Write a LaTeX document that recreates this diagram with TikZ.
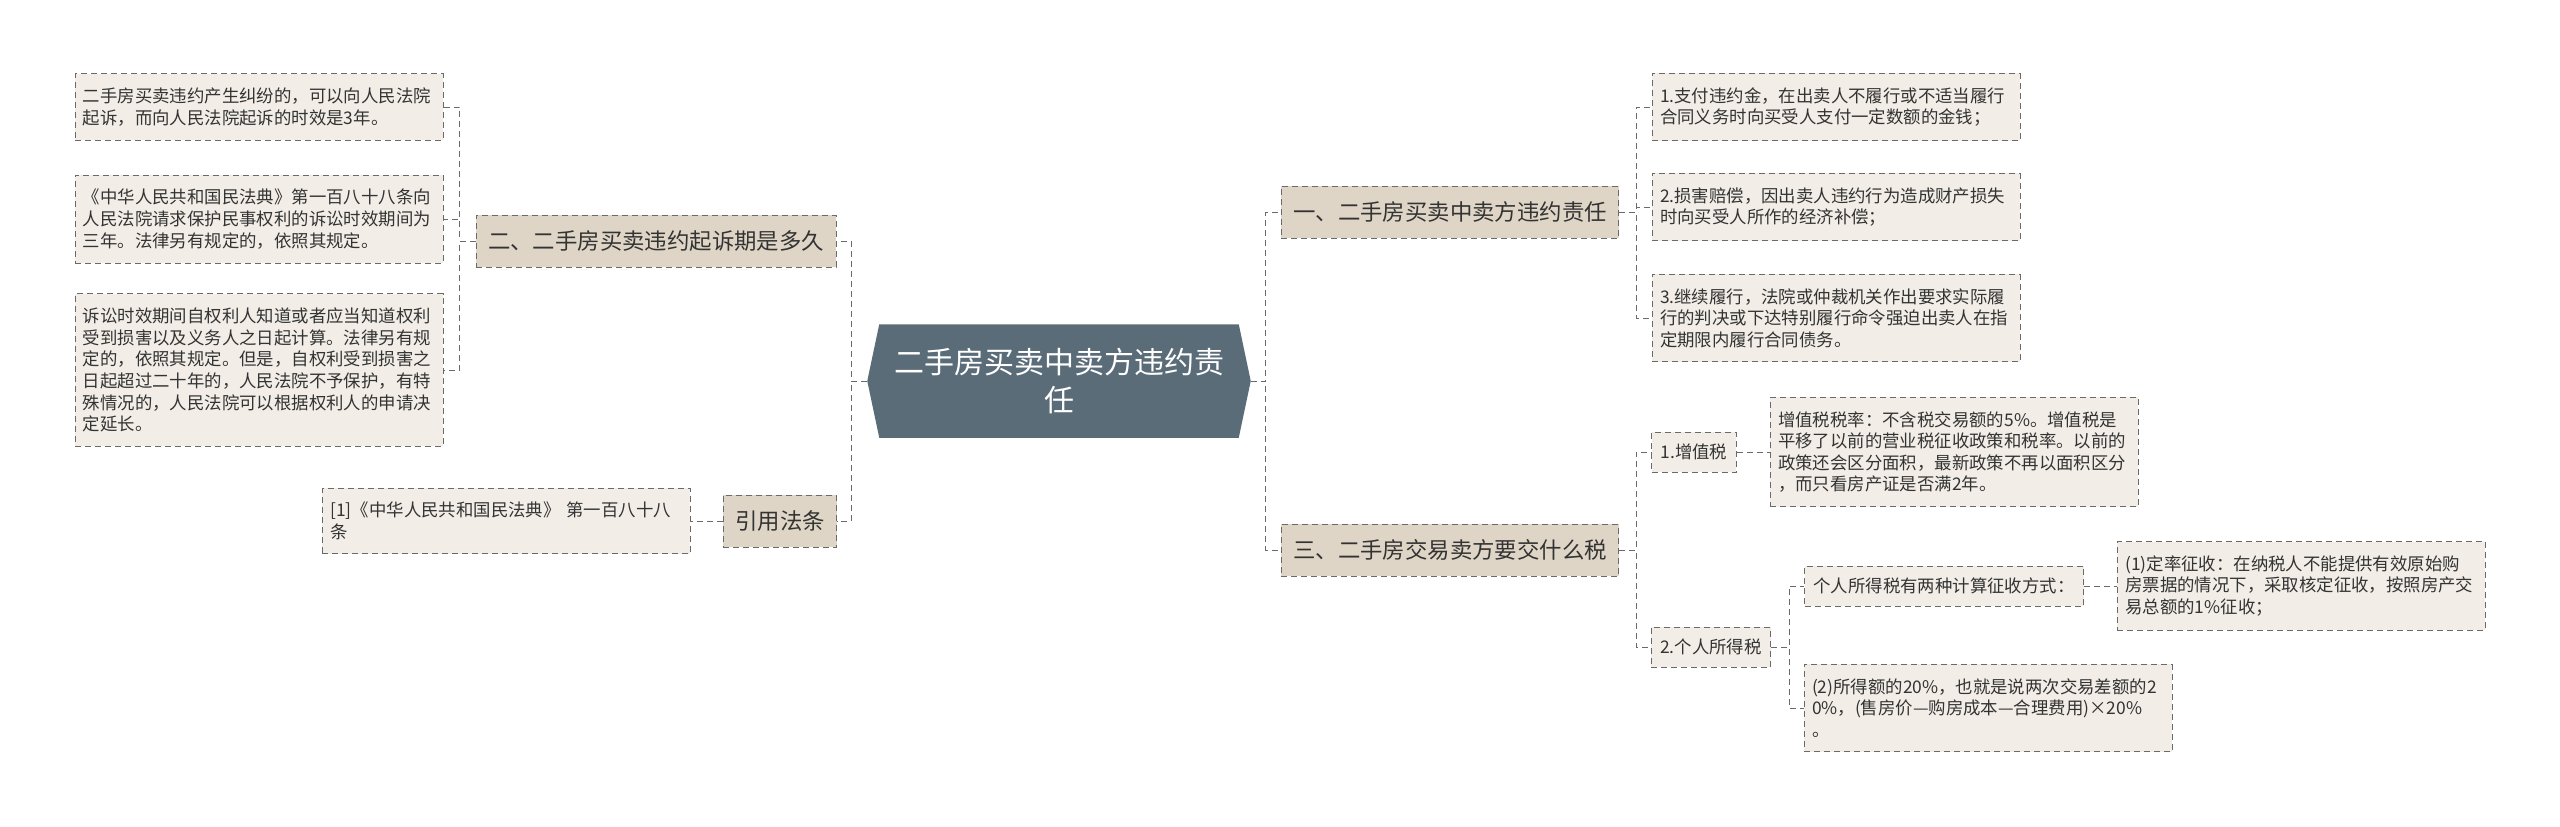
\documentclass[tikz,border=0pt]{standalone}
\usepackage{fontspec}
\setmainfont{Noto Sans CJK SC}
\usepackage{xcolor}
\usepackage{tikz}
\usetikzlibrary{positioning, backgrounds}

\definecolor{hubfill}{HTML}{5B6C79}
\definecolor{topicfill}{HTML}{DED5C6}
\definecolor{notefill}{HTML}{F2EEE7}
\definecolor{edgegray}{HTML}{6A6A6A}
\definecolor{inkgray}{HTML}{333333}

\begin{document}
\begin{tikzpicture}[
    x=0.5pt, y=-0.5pt,  % one unit = one pixel of the 2560 wide picture
    line width=0.75pt,
    edgedash/.style={dash pattern=on 3pt off 2pt},
    hub/.style={
      minimum width=191pt,
      minimum height=56pt,
      inner sep=0pt,
      align=center,
      text=white,
      font=\fontsize{15pt}{19pt}\selectfont
    },
    topic/.style={
      draw=edgegray, edgedash,
      fill=topicfill,
      text=inkgray,
      font=\fontsize{11.2pt}{14pt}\selectfont,
      inner xsep=6pt, inner ysep=0pt,
      minimum height=26pt
    },
    subtopic/.style={
      draw=edgegray, edgedash,
      fill=notefill,
      text=inkgray,
      font=\fontsize{8.7pt}{11pt}\selectfont,
      inner xsep=4.5pt, inner ysep=0pt,
      minimum height=20pt
    },
    note/.style={
      draw=edgegray, edgedash,
      fill=notefill,
      text=inkgray,
      font=\fontsize{8.7pt}{10.8pt}\selectfont,
      align=left,
      text width=176pt,
      inner xsep=4pt, inner ysep=7pt
    },
    link/.style={draw=edgegray, edgedash}
]
\useasboundingbox (0,0) rectangle (2560,826);

% centre
\node[hub] (hub) at (1059,381) {二手房买卖中卖方违约责\\任};
\begin{pgfonlayer}{background}
\fill[hubfill] ([xshift=6pt]hub.north west) -- ([xshift=-6pt]hub.north east) -- (hub.east)
  -- ([xshift=-6pt]hub.south east) -- ([xshift=6pt]hub.south west) -- (hub.west) -- cycle;
\end{pgfonlayer}

% left branch
\node[topic] (suitTime) at (656,241) {二、二手房买卖违约起诉期是多久};
\node[note] (suitNoteA) at (259,107) {二手房买卖违约产生纠纷的，可以向人民法院\\起诉，而向人民法院起诉的时效是3年。};
\node[note] (suitNoteB) at (259,219) {《中华人民共和国民法典》第一百八十八条向\\人民法院请求保护民事权利的诉讼时效期间为\\三年。法律另有规定的，依照其规定。};
\node[note] (suitNoteC) at (259,370) {诉讼时效期间自权利人知道或者应当知道权利\\受到损害以及义务人之日起计算。法律另有规\\定的，依照其规定。但是，自权利受到损害之\\日起超过二十年的，人民法院不予保护，有特\\殊情况的，人民法院可以根据权利人的申请决\\定延长。};
\node[topic] (citeLaw) at (780,521) {引用法条};
\node[note, left=16pt of citeLaw] (citeNote) {[1]《中华人民共和国民法典》 第一百八十八\\条};

% right branch
\node[topic] (liability) at (1450,212) {一、二手房买卖中卖方违约责任};
\node[note] (payNoteA) at (1836,107) {1.支付违约金，在出卖人不履行或不适当履行\\合同义务时向买受人支付一定数额的金钱；};
\node[note] (payNoteB) at (1836,207) {2.损害赔偿，因出卖人违约行为造成财产损失\\时向买受人所作的经济补偿；};
\node[note] (payNoteC) at (1836,318) {3.继续履行，法院或仲裁机关作出要求实际履\\行的判决或下达特别履行命令强迫出卖人在指\\定期限内履行合同债务。};
\node[topic] (taxes) at (1450,550) {三、二手房交易卖方要交什么税};
\node[subtopic] (vat) at (1694,452) {1.增值税};
\node[note, right=16.5pt of vat] (vatNote) {增值税税率：不含税交易额的5\%。增值税是\\平移了以前的营业税征收政策和税率。以前的\\政策还会区分面积，最新政策不再以面积区分\\，而只看房产证是否满2年。};
\node[subtopic] (incomeTax) at (1711,647) {2.个人所得税};
\node[subtopic] (incomeWays) at (1944,586) {个人所得税有两种计算征收方式：};
\node[note, right=16.5pt of incomeWays] (rateNote) {(1)定率征收：在纳税人不能提供有效原始购\\房票据的情况下，采取核定征收，按照房产交\\易总额的1\%征收；};
\node[note] (gainNote) at (1988,708) {(2)所得额的20\%，也就是说两次交易差额的2\\0\%，(售房价—购房成本—合理费用)×20\%\\。};

% connectors
\draw[link] (hub.west) -- ++(-16,0) |- (suitTime.east);
\draw[link] (hub.west) -- ++(-16,0) |- (citeLaw.east);
\foreach \n in {suitNoteA, suitNoteB, suitNoteC}
  \draw[link] (suitTime.west) -- ++(-16,0) |- (\n.east);
\draw[link] (citeLaw.west) -- (citeNote.east);
\draw[link] (hub.east) -- ++(15,0) |- (liability.west);
\draw[link] (hub.east) -- ++(15,0) |- (taxes.west);
\foreach \n in {payNoteA, payNoteB, payNoteC}
  \draw[link] (liability.east) -- ++(17,0) |- (\n.west);
\foreach \n in {vat, incomeTax}
  \draw[link] (taxes.east) -- ++(17,0) |- (\n.west);
\draw[link] (vat.east) -- (vatNote.west);
\foreach \n in {incomeWays, gainNote}
  \draw[link] (incomeTax.east) -- ++(18,0) |- (\n.west);
\draw[link] (incomeWays.east) -- (rateNote.west);
\end{tikzpicture}
\end{document}
